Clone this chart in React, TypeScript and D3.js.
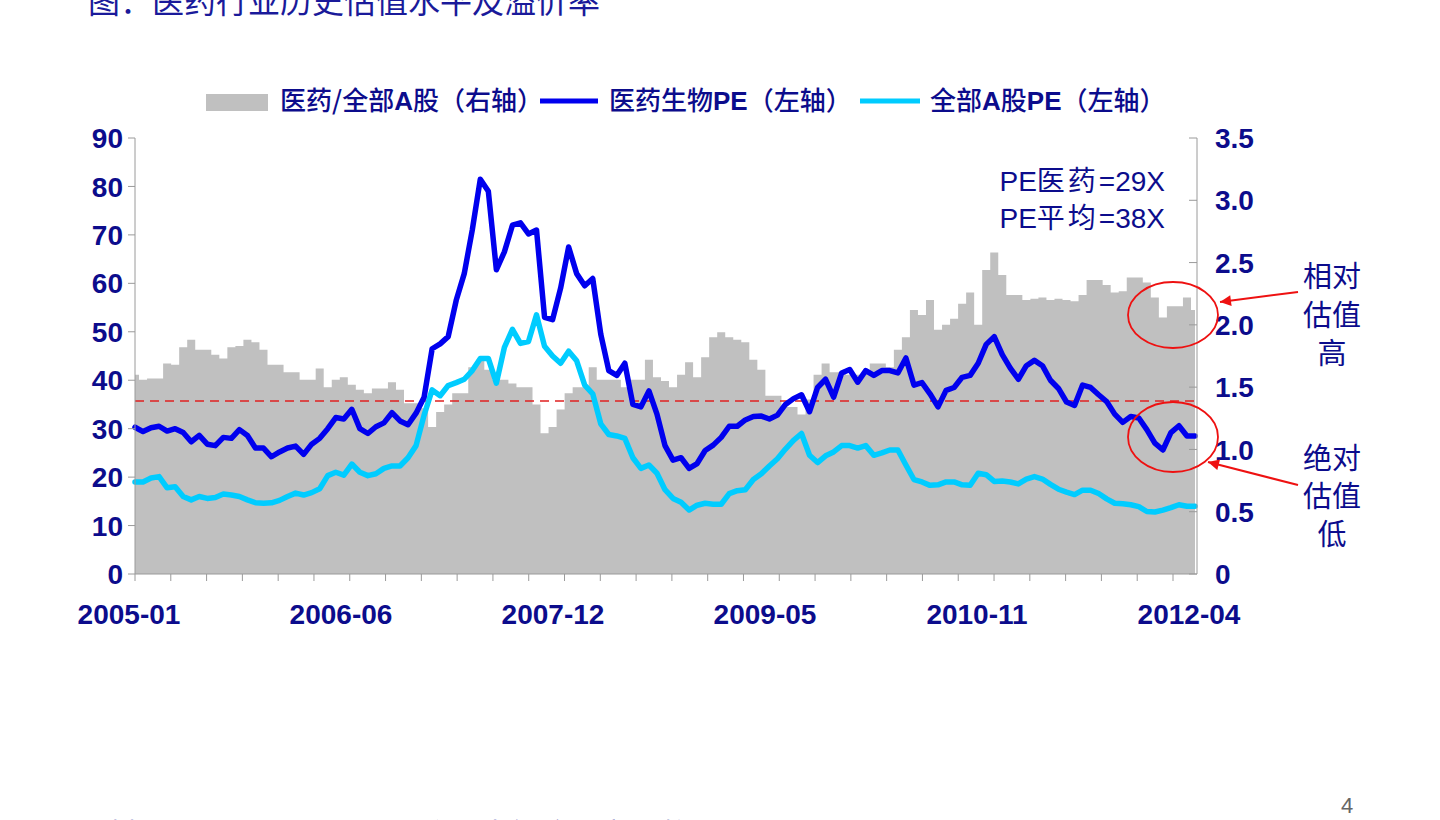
import React from 'react';
import * as d3 from 'd3';

// 医药生物PE (left axis)
const pharmaPE = [
  30.3, 29.4, 30.2, 30.5, 29.5, 30.0, 29.2, 27.3, 28.6, 26.8,
  26.5, 28.2, 28.0, 29.8, 28.6, 26.0, 26.0, 24.2, 25.2, 26.0,
  26.4, 24.7, 26.8, 28.0, 30.0, 32.3, 32.0, 34.0, 30.0, 29.0,
  30.4, 31.2, 33.3, 31.6, 30.8, 33.2, 36.5, 46.5, 47.5, 49.0,
  56.5, 62.0, 71.0, 81.5, 79.0, 62.8, 66.5, 72.0, 72.5, 70.2,
  71.0, 53.0, 52.5, 59.0, 67.5, 62.0, 59.5, 61.0, 49.5, 42.0,
  41.0, 43.5, 35.0, 34.5, 37.8, 33.0, 26.5, 23.5, 24.0, 21.8,
  22.8, 25.5, 26.6, 28.2, 30.5, 30.5, 31.8, 32.5, 32.6, 32.0,
  32.8, 35.0, 36.2, 37.0, 33.5, 38.5, 40.2, 36.5, 41.5, 42.2,
  39.6, 42.0, 41.0, 42.0, 42.0, 41.5, 44.6, 39.0, 39.5, 37.2,
  34.5, 37.9, 38.5, 40.6, 41.0, 43.5, 47.4, 49.0, 45.3, 42.5,
  40.2, 43.0, 44.1, 43.0, 40.0, 38.3, 35.5, 34.8, 39.0, 38.5,
  37.0, 35.6, 33.0, 31.3, 32.5, 32.2, 29.8, 27.0, 25.6, 29.2,
  30.6, 28.5, 28.5,
];

// 全部A股PE (left axis)
const marketPE = [
  19.0, 19.0, 19.8, 20.1, 17.8, 18.0, 16.0, 15.3, 16.0, 15.6,
  15.8, 16.5, 16.3, 16.0, 15.3, 14.7, 14.6, 14.7, 15.2, 16.0,
  16.7, 16.3, 16.8, 17.6, 20.3, 21.0, 20.4, 22.7, 21.0, 20.3,
  20.7, 21.8, 22.3, 22.3, 24.0, 26.5, 32.8, 38.0, 36.8, 38.9,
  39.5, 40.2, 42.0, 44.5, 44.5, 39.4, 46.8, 50.5, 47.6, 48.0,
  53.5, 47.0, 45.0, 43.5, 46.0, 44.0, 39.0, 37.2, 31.0, 28.8,
  28.5, 28.0, 24.0, 21.8, 22.5, 20.8, 17.4, 15.6, 14.8, 13.2,
  14.2, 14.6, 14.4, 14.4, 16.6, 17.2, 17.4, 19.5, 20.7, 22.3,
  23.8, 25.8, 27.6, 29.0, 24.5, 23.0, 24.4, 25.2, 26.5, 26.5,
  26.0, 26.5, 24.5, 25.0, 25.6, 25.6, 22.5, 19.5, 19.0, 18.3,
  18.4, 19.0, 19.0, 18.4, 18.3, 20.8, 20.5, 19.1, 19.2, 19.0,
  18.6, 19.6, 20.1, 19.6, 18.5, 17.5, 16.9, 16.4, 17.3, 17.3,
  16.6, 15.5, 14.6, 14.5, 14.3, 13.9, 12.9, 12.8, 13.2, 13.7,
  14.3, 14.0, 14.0,
];

// 医药/全部A股 (right axis)
const relative = [
  1.60, 1.56, 1.57, 1.57, 1.69, 1.68, 1.82, 1.88, 1.80, 1.80,
  1.76, 1.73, 1.82, 1.83, 1.88, 1.86, 1.80, 1.68, 1.68, 1.62,
  1.62, 1.56, 1.56, 1.65, 1.50, 1.56, 1.58, 1.52, 1.48, 1.45,
  1.49, 1.49, 1.54, 1.48, 1.37, 1.37, 1.33, 1.18, 1.30, 1.36,
  1.45, 1.45, 1.66, 1.72, 1.64, 1.56, 1.56, 1.53, 1.50, 1.50,
  1.36, 1.13, 1.18, 1.32, 1.45, 1.50, 1.50, 1.66, 1.56, 1.56,
  1.56, 1.50, 1.56, 1.56, 1.72, 1.58, 1.55, 1.50, 1.60, 1.70,
  1.58, 1.74, 1.90, 1.94, 1.90, 1.88, 1.86, 1.72, 1.64, 1.43,
  1.43, 1.34, 1.34, 1.28, 1.40, 1.60, 1.69, 1.62, 1.62, 1.60,
  1.60, 1.62, 1.69, 1.69, 1.66, 1.80, 1.90, 2.12, 2.08, 2.20,
  1.96, 2.00, 2.05, 2.17, 2.26, 2.00, 2.44, 2.58, 2.40, 2.24,
  2.24, 2.20, 2.21, 2.22, 2.20, 2.21, 2.20, 2.19, 2.24, 2.36,
  2.36, 2.32, 2.26, 2.27, 2.38, 2.38, 2.34, 2.22, 2.06, 2.15,
  2.15, 2.22, 2.12,
];

const xLabels = ['2005-01', '2006-06', '2007-12', '2009-05', '2010-11', '2012-04'];
const leftTicks = [0, 10, 20, 30, 40, 50, 60, 70, 80, 90];
const rightTicks = ['0', '0.5', '1.0', '1.5', '2.0', '2.5', '3.0', '3.5'];
const avgPE = 35.7;

const NAVY = '#0c0c8c';
const LATIN = '"Liberation Sans", Arial, sans-serif';
const CJK = '"Noto Sans CJK SC", sans-serif';

export default function App() {
  const left = 135, right = 1197, top = 138, bottom = 574;
  const n = pharmaPE.length;
  const x = d3.scaleLinear().domain([0, n - 1]).range([left, 1195]);
  const yL = d3.scaleLinear().domain([0, 90]).range([bottom, top]);
  const yR = d3.scaleLinear().domain([0, 3.5]).range([bottom, top]);
  const xTick = d3.scaleLinear().domain([0, 29]).range([left, 1173]);

  const area = d3.area<number>()
    .x((_, i) => x(i))
    .y0(bottom)
    .y1(d => yR(d))
    .curve(d3.curveStep);
  const line = d3.line<number>()
    .x((_, i) => x(i))
    .y(d => yL(d));

  const labelX = (k: number) => x((k * (n - 1)) / (xLabels.length - 1)) - 6;

  return (
    <svg width={1440} height={820} style={{ position: 'absolute', left: 0, top: 0, background: '#fff' }}>
      <defs>
        <marker id="arrow" viewBox="0 0 10 10" refX="10" refY="5" markerWidth="14" markerHeight="11"
          markerUnits="userSpaceOnUse" orient="auto">
          <path d="M0,0 L10,5 L0,10 z" fill="#ee1111" />
        </marker>
      </defs>

      {/* title (cut at top edge) */}
      <text x={88} y={13} fontFamily={CJK} fontSize={32} fill="#1a1a9a">图：医药行业历史估值水平及溢价率</text>

      {/* legend */}
      <rect x={206} y={94} width={62} height={17} fill="#c0c0c0" />
      <text x={280} y={110} fontFamily={CJK} fontSize={26} fill={NAVY} fontWeight={500}>
        医药/全部<tspan fontFamily={LATIN} fontWeight="bold">A</tspan>股（右轴）
      </text>
      <line x1={540} x2={598} y1={101} y2={101} stroke="#0000ee" strokeWidth={5} />
      <text x={609} y={110} fontFamily={CJK} fontSize={26} fill={NAVY} fontWeight={500}>
        医药生物<tspan fontFamily={LATIN} fontWeight="bold">PE</tspan>（左轴）
      </text>
      <line x1={860} x2={920} y1={101} y2={101} stroke="#00ccff" strokeWidth={5} />
      <text x={930} y={110} fontFamily={CJK} fontSize={26} fill={NAVY} fontWeight={500}>
        全部<tspan fontFamily={LATIN} fontWeight="bold">A</tspan>股<tspan fontFamily={LATIN} fontWeight="bold">PE</tspan>（左轴）
      </text>

      {/* relative valuation area */}
      <path d={area(relative) ?? ''} fill="#c0c0c0" />

      {/* average line */}
      <line x1={left} x2={right} y1={yL(avgPE)} y2={yL(avgPE)} stroke="#e02020" strokeWidth={1.5} strokeDasharray="9,6" />

      <path d={line(marketPE) ?? ''} fill="none" stroke="#00ccff" strokeWidth={5.5} strokeLinejoin="round" strokeLinecap="round" />
      <path d={line(pharmaPE) ?? ''} fill="none" stroke="#0000ee" strokeWidth={5.5} strokeLinejoin="round" strokeLinecap="round" />

      {/* axes */}
      <g stroke="#9a9a9a" strokeWidth={1}>
        <line x1={left} x2={left} y1={top} y2={bottom} />
        <line x1={right} x2={right} y1={top} y2={bottom} />
        <line x1={left} x2={right} y1={bottom} y2={bottom} />
        {leftTicks.map(t => <line key={'l' + t} x1={left - 7} x2={left} y1={yL(t)} y2={yL(t)} />)}
        {rightTicks.map(t => <line key={'r' + t} x1={right - 8} x2={right} y1={yR(+t)} y2={yR(+t)} />)}
        {d3.range(30).map(i => <line key={'x' + i} x1={xTick(i)} x2={xTick(i)} y1={bottom} y2={bottom + 7} />)}
      </g>
      <g fontFamily={LATIN} fontWeight="bold" fontSize={28} fill={NAVY}>
        {leftTicks.map(t => (
          <text key={'lt' + t} x={123} y={yL(t)} dy="0.36em" textAnchor="end">{t}</text>
        ))}
        {rightTicks.map(t => (
          <text key={'rt' + t} x={1215} y={yR(+t)} dy="0.36em">{t}</text>
        ))}
        {xLabels.map((l, k) => (
          <text key={l} x={labelX(k)} y={624} textAnchor="middle">{l}</text>
        ))}
      </g>

      {/* PE annotation */}
      <g fill={NAVY} fontSize={28}>
        <text x={1165} y={191} textAnchor="end" fontFamily={LATIN}>PE<tspan fontFamily={CJK} letterSpacing={3}>医药</tspan>=29X</text>
        <text x={1165} y={228} textAnchor="end" fontFamily={LATIN}>PE<tspan fontFamily={CJK} letterSpacing={3}>平均</tspan>=38X</text>
      </g>

      {/* circles and arrows */}
      <ellipse cx={1173} cy={315} rx={45} ry={33} fill="none" stroke="#ee1111" strokeWidth={1.8} />
      <ellipse cx={1173} cy={437} rx={45} ry={35} fill="none" stroke="#ee1111" strokeWidth={1.8} />
      <line x1={1298} y1={292} x2={1220} y2={302} stroke="#ee1111" strokeWidth={2} markerEnd="url(#arrow)" />
      <line x1={1298} y1={485} x2={1208} y2={462} stroke="#ee1111" strokeWidth={2} markerEnd="url(#arrow)" />

      <g fontFamily={CJK} fontSize={29} fill={NAVY} textAnchor="middle">
        <text x={1332} y={287}>相对</text>
        <text x={1332} y={326}>估值</text>
        <text x={1332} y={364}>高</text>
        <text x={1332} y={469}>绝对</text>
        <text x={1332} y={507}>估值</text>
        <text x={1332} y={545}>低</text>
      </g>

      {/* footer */}
      <text x={1347} y={813} fontFamily={LATIN} fontSize={22} fill="#666" textAnchor="middle">4</text>
      <text x={78} y={845} fontFamily={CJK} fontSize={30} fill={NAVY}>资料来源：Wind资讯，国信证券经济研究所整理</text>
    </svg>
  );
}
